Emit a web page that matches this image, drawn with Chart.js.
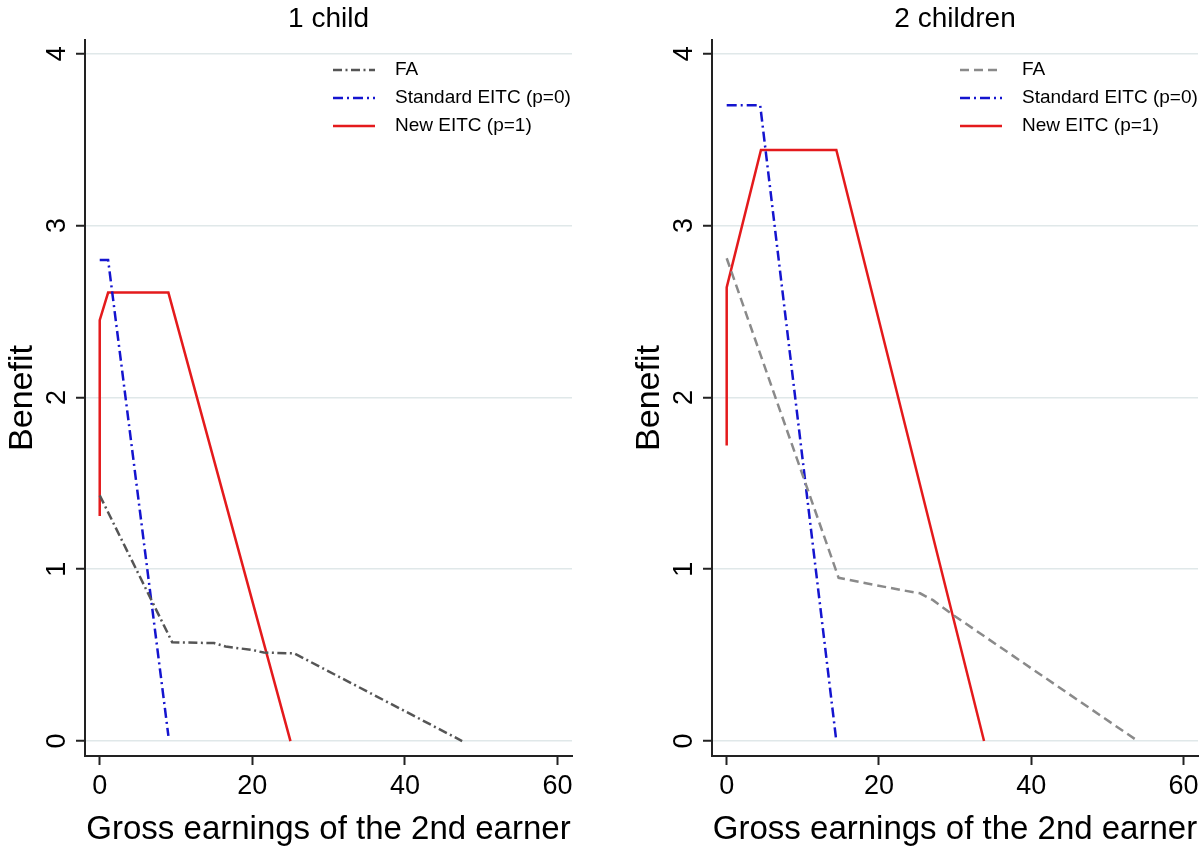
<!DOCTYPE html>
<html>
<head>
<meta charset="utf-8">
<script src="https://cdn.jsdelivr.net/npm/chart.js@4.4.1/dist/chart.umd.min.js"></script>
<style>
  html, body { margin: 0; padding: 0; background: #fff; overflow: hidden; }
  .panel { position: absolute; top: 0; height: 848px; }
  #panel-1 { left: 0; width: 600px; }
  #panel-2 { left: 627px; width: 573px; }
</style>
</head>
<body>
<div class="panel" id="panel-1"><canvas id="chart-1"></canvas></div>
<div class="panel" id="panel-2"><canvas id="chart-2"></canvas></div>
<script>
// Axis ticks shared by both panels
const xTickValues = [0, 20, 40, 60];
const yTickValues = [0, 1, 2, 3, 4];
const seriesLabels = ['FA', 'Standard EITC (p=0)', 'New EITC (p=1)'];
const panelTitles = ['1 child', '2 children'];

// Panel 1: 1 child (earnings on x, benefit on y)
const faEarnings1 = [0, 9.5, 15, 16.5, 20, 21.5, 25.5, 47.5];
const faBenefit1 = [1.43, 0.575, 0.57, 0.55, 0.53, 0.515, 0.51, 0];
const stdEarnings1 = [0, 1.1, 9.0];
const stdBenefit1 = [2.80, 2.80, 0.03];
const newEarnings1 = [0, 0, 1.1, 9.0, 25.0];
const newBenefit1 = [1.31, 2.45, 2.61, 2.61, 0];

// Panel 2: 2 children
const faEarnings2 = [0, 14.7, 17.5, 22.8, 25.4, 27.1, 29.7, 54];
const faBenefit2 = [2.81, 0.95, 0.925, 0.88, 0.86, 0.82, 0.735, 0];
const stdEarnings2 = [0, 4.4, 14.4];
const stdBenefit2 = [3.70, 3.70, 0];
const newEarnings2 = [0, 0, 4.5, 14.4, 33.8];
const newBenefit2 = [1.72, 2.64, 3.44, 3.44, 0];

const FONT = "'Liberation Sans', Arial, Helvetica, sans-serif";
Chart.defaults.font.family = FONT;
Chart.defaults.color = '#000';

function toPoints(xs, ys) {
  return xs.map((x, i) => ({ x: x, y: ys[i] }));
}

// Stata-style legend drawn inside the plot region, top right
const insideLegend = {
  id: 'insideLegend',
  afterDraw(chart) {
    const ctx = chart.ctx;
    const x0 = chart.chartArea.left + 248;
    chart.data.datasets.forEach((ds, i) => {
      const y = chart.chartArea.top + 30 + i * 28;
      ctx.save();
      ctx.strokeStyle = ds.borderColor;
      ctx.lineWidth = ds.borderWidth;
      ctx.setLineDash(ds.borderDash || []);
      ctx.beginPath();
      ctx.moveTo(x0, y);
      ctx.lineTo(x0 + 42, y);
      ctx.stroke();
      ctx.setLineDash([]);
      ctx.fillStyle = '#000';
      ctx.font = '19px ' + FONT;
      ctx.textBaseline = 'middle';
      ctx.fillText(ds.label, x0 + 62, y);
      ctx.restore();
    });
  }
};

function makePanel(canvasId, title, series, faStyle, padRight) {
  const datasets = [
    {
      label: seriesLabels[0],
      data: toPoints(series.faX, series.faY),
      borderColor: faStyle.color,
      borderDash: faStyle.dash,
      borderWidth: 2.5,
    },
    {
      label: seriesLabels[1],
      data: toPoints(series.stdX, series.stdY),
      borderColor: '#1414cf',
      borderDash: [10, 4, 2, 4],
      borderWidth: 2.5,
    },
    {
      label: seriesLabels[2],
      data: toPoints(series.newX, series.newY),
      borderColor: '#e41a1c',
      borderDash: [],
      borderWidth: 2.5,
    },
  ];

  return new Chart(document.getElementById(canvasId), {
    type: 'line',
    data: { datasets: datasets },
    options: {
      responsive: true,
      maintainAspectRatio: false,
      animation: false,
      layout: { padding: { left: 0, right: padRight, top: 0, bottom: 0 } },
      elements: {
        point: { radius: 0 },
        line: { tension: 0, fill: false },
      },
      plugins: {
        legend: { display: false },
        tooltip: { enabled: false },
        title: {
          display: true,
          text: title,
          fullSize: false,
          color: '#000',
          font: { size: 28, weight: 'normal', lineHeight: 1 },
          padding: { top: 5, bottom: 7 },
        },
      },
      scales: {
        x: {
          type: 'linear',
          min: -1.93,
          max: 61.9,
          afterBuildTicks: s => { s.ticks = xTickValues.map(v => ({ value: v })); },
          afterFit: s => { s.height = 92; s.paddingLeft = 0; s.paddingRight = 0; },
          grid: {
            drawOnChartArea: false,
            drawTicks: true,
            tickLength: 9,
            tickColor: '#222',
            tickWidth: 2,
          },
          border: { display: true, color: '#222', width: 2 },
          ticks: {
            color: '#000',
            padding: 5,
            maxRotation: 0,
            font: { size: 27 },
            callback: v => String(v),
          },
          title: {
            display: true,
            text: 'Gross earnings of the 2nd earner',
            color: '#000',
            font: { size: 33, lineHeight: 1 },
            padding: { top: 0, bottom: 2 },
          },
        },
        y: {
          type: 'linear',
          min: -0.087,
          max: 4.08,
          afterBuildTicks: s => { s.ticks = yTickValues.map(v => ({ value: v })); },
          afterFit: s => { s.width = 85; s.paddingTop = 0; s.paddingBottom = 0; },
          grid: {
            color: '#e0e8e9',
            lineWidth: 1.5,
            drawTicks: true,
            tickLength: 9,
            tickColor: '#222',
            tickWidth: 2,
          },
          border: { display: true, color: '#222', width: 2 },
          ticks: {
            color: '#000',
            padding: 11,
            minRotation: 90,
            maxRotation: 90,
            crossAlign: 'center',
            font: { size: 27 },
            callback: v => String(v),
          },
          title: {
            display: true,
            text: 'Benefit',
            color: '#000',
            font: { size: 34, lineHeight: 1 },
            padding: { top: 6, bottom: 0 },
          },
        },
      },
    },
    plugins: [insideLegend],
  });
}

makePanel('chart-1', panelTitles[0], {
  faX: faEarnings1, faY: faBenefit1,
  stdX: stdEarnings1, stdY: stdBenefit1,
  newX: newEarnings1, newY: newBenefit1,
}, { color: '#555555', dash: [9, 3.5, 2, 3.5] }, 28);

makePanel('chart-2', panelTitles[1], {
  faX: faEarnings2, faY: faBenefit2,
  stdX: stdEarnings2, stdY: stdBenefit2,
  newX: newEarnings2, newY: newBenefit2,
}, { color: '#8a8a8a', dash: [9, 5] }, 2);
</script>
</body>
</html>
